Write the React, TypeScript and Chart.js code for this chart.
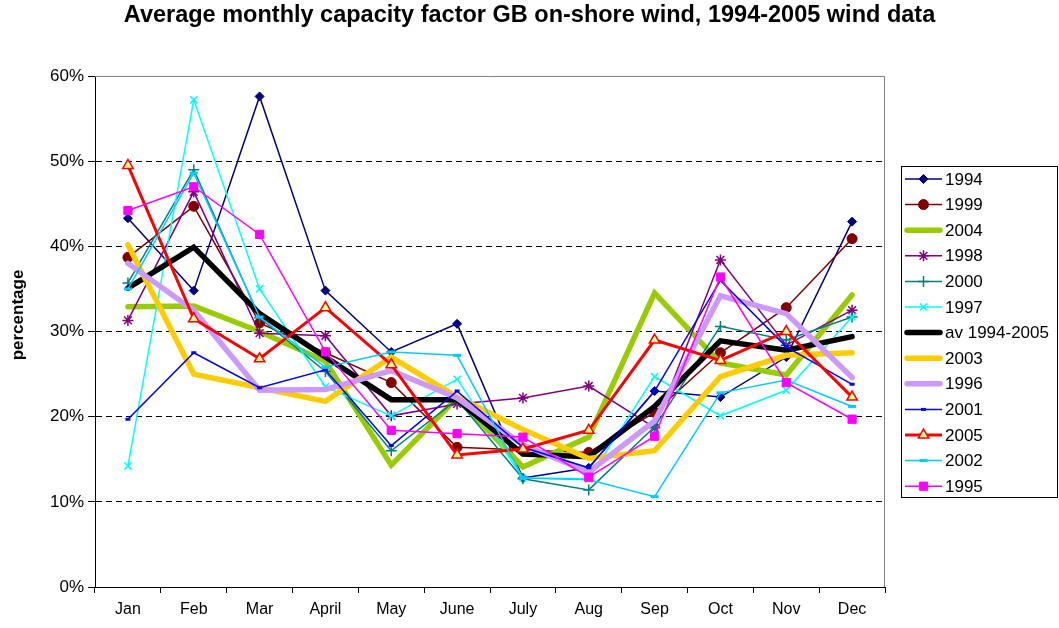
import React, { useEffect, useRef } from 'react';
import { Chart, registerables } from 'chart.js';
import { drawPoint } from 'chart.js/helpers';

Chart.register(...registerables);

const FONT = '"Liberation Sans", Arial, Helvetica, sans-serif';

const chartTitle = 'Average monthly capacity factor GB on-shore wind, 1994-2005 wind data';
const yAxisTitle = 'percentage';
const months = ['Jan', 'Feb', 'Mar', 'April', 'May', 'June', 'July', 'Aug', 'Sep', 'Oct', 'Nov', 'Dec'];
const yTicks = [0, 10, 20, 30, 40, 50, 60];

const y1994 = [43.3, 34.8, 57.6, 34.8, 27.6, 30.9, 12.8, 14.0, 23.0, 22.3, 27.0, 42.9];
const y1999 = [38.7, 44.7, 31.0, 27.5, 24.0, 16.4, 16.1, 15.8, 20.5, 27.5, 32.8, 40.9];
const y2004 = [32.9, 33.0, 30.0, 26.5, 14.3, 22.2, 14.1, 17.6, 34.5, 26.3, 24.9, 34.3];
const y1998 = [31.3, 46.4, 29.8, 29.5, 20.1, 21.5, 22.2, 23.6, 18.7, 38.4, 28.4, 32.5];
const y2000 = [35.7, 49.0, 31.6, 25.3, 16.0, 22.0, 12.7, 11.4, 18.8, 30.6, 29.0, 31.7];
const y1997 = [14.2, 57.2, 35.0, 23.5, 20.1, 24.4, 12.8, 12.7, 24.7, 20.1, 23.1, 31.7];
const yAverage = [35.1, 39.9, 32.1, 27.0, 22.0, 22.0, 15.6, 15.3, 21.2, 28.9, 27.8, 29.4];
const y2003 = [40.2, 25.0, 23.4, 21.8, 27.0, 22.3, 18.5, 15.1, 16.0, 24.7, 27.2, 27.5];
const y1996 = [38.0, 32.5, 23.1, 23.2, 25.4, 22.2, 16.7, 13.5, 19.5, 34.2, 32.1, 24.6];
const y2001 = [19.7, 27.5, 23.4, 25.5, 16.6, 23.0, 16.4, 14.0, 23.0, 36.0, 28.2, 23.8];
const y2005 = [49.5, 31.5, 26.8, 32.8, 26.1, 15.5, 16.2, 18.4, 29.0, 26.6, 30.0, 22.3];
const y2002 = [35.0, 48.6, 31.7, 25.8, 27.6, 27.2, 12.8, 12.6, 10.6, 22.8, 24.3, 21.2];
const y1995 = [44.2, 47.0, 41.4, 27.6, 18.4, 18.0, 17.6, 12.9, 17.7, 36.4, 24.0, 19.7];

const seriesLabels = ['1994', '1999', '2004', '1998', '2000', '1997', 'av 1994-2005', '2003', '1996', '2001', '2005', '2002', '1995'];
const seriesValues = [y1994, y1999, y2004, y1998, y2000, y1997, yAverage, y2003, y1996, y2001, y2005, y2002, y1995];

type SeriesStyle = {
  color: string;
  width: number;
  point: string | false;
  radius: number;
  fill?: string;
  pointBorder?: number;
};

const seriesStyles: SeriesStyle[] = [
  { color: '#000080', width: 1.5, point: 'rectRot', radius: 4.5 },
  { color: '#800000', width: 1.5, point: 'circle', radius: 5 },
  { color: '#99CC00', width: 5.5, point: false, radius: 0 },
  { color: '#800080', width: 1.5, point: 'star', radius: 5.5, pointBorder: 1.5 },
  { color: '#008080', width: 1.5, point: 'cross', radius: 5.5, pointBorder: 1.5 },
  { color: '#00FFFF', width: 1.5, point: 'crossRot', radius: 5, pointBorder: 1.5 },
  { color: '#000000', width: 5.5, point: false, radius: 0 },
  { color: '#FFCC00', width: 5.5, point: false, radius: 0 },
  { color: '#CC99FF', width: 5.5, point: false, radius: 0 },
  { color: '#0000FF', width: 1.5, point: 'line', radius: 2.5, pointBorder: 3 },
  { color: '#FF0000', width: 3, point: 'triangle', radius: 6, fill: '#FFFF99', pointBorder: 1.5 },
  { color: '#00CCFF', width: 1.5, point: 'line', radius: 4, pointBorder: 3 },
  { color: '#FF00FF', width: 1.5, point: 'rect', radius: 5.8 },
];

const titlePlugin = {
  id: 'centredTitle',
  beforeDraw(chart: any) {
    const ctx = chart.ctx as CanvasRenderingContext2D;
    ctx.save();
    ctx.fillStyle = '#000';
    ctx.font = `bold 23.5px ${FONT}`;
    ctx.textAlign = 'center';
    ctx.textBaseline = 'middle';
    ctx.fillText(chartTitle, chart.width / 2, 16);
    // y axis title
    ctx.font = `bold 17px ${FONT}`;
    ctx.translate(18, 315);
    ctx.rotate(-Math.PI / 2);
    ctx.fillText(yAxisTitle, 0, 0);
    ctx.restore();
  },
};

const framePlugin = {
  id: 'plotFrame',
  beforeDatasetsDraw(chart: any) {
    const { ctx, chartArea: a } = chart;
    ctx.save();
    ctx.strokeStyle = '#808080';
    ctx.lineWidth = 1;
    ctx.setLineDash([]);
    ctx.beginPath();
    ctx.moveTo(a.left, Math.round(a.top) + 0.5);
    ctx.lineTo(Math.round(a.right) - 0.5, Math.round(a.top) + 0.5);
    ctx.lineTo(Math.round(a.right) - 0.5, a.bottom);
    ctx.stroke();
    ctx.restore();
  },
};

const legendPlugin = {
  id: 'boxLegend',
  afterDraw(chart: any) {
    const ctx = chart.ctx as CanvasRenderingContext2D;
    const a = chart.chartArea;
    const x0 = a.right + 16;
    const y0 = 166;
    const w = 156;
    const h = 331;
    const step = 25.6;
    ctx.save();
    ctx.setLineDash([]);
    ctx.strokeStyle = '#000';
    ctx.lineWidth = 1;
    ctx.strokeRect(Math.round(x0) + 0.5, y0 + 0.5, w, h);
    chart.data.datasets.forEach((ds: any, i: number) => {
      const y = y0 + 13 + i * step;
      const sx0 = x0 + 4;
      const sx1 = x0 + 41;
      ctx.strokeStyle = ds.borderColor;
      ctx.lineWidth = ds.borderWidth;
      ctx.lineCap = ds.borderWidth > 3 ? 'round' : 'butt';
      ctx.beginPath();
      ctx.moveTo(sx0 + (ds.borderWidth > 3 ? 2 : 0), y);
      ctx.lineTo(sx1 - (ds.borderWidth > 3 ? 2 : 0), y);
      ctx.stroke();
      if (ds.pointRadius > 0) {
        ctx.fillStyle = ds.pointBackgroundColor;
        ctx.strokeStyle = ds.pointBorderColor;
        ctx.lineWidth = ds.pointBorderWidth;
        drawPoint(ctx, { pointStyle: ds.pointStyle, rotation: 0, radius: ds.pointRadius, borderWidth: ds.pointBorderWidth }, (sx0 + sx1) / 2, y);
      }
      ctx.fillStyle = '#000';
      ctx.font = `17px ${FONT}`;
      ctx.textAlign = 'left';
      ctx.textBaseline = 'middle';
      ctx.fillText(ds.label, sx1 + 3, y + 1);
    });
    ctx.restore();
  },
};

export default function App() {
  const ref = useRef<HTMLCanvasElement>(null);

  useEffect(() => {
    document.body.style.margin = '0';
    const datasets = seriesLabels.map((label, i) => {
      const s = seriesStyles[i];
      return {
        label,
        data: seriesValues[i],
        borderColor: s.color,
        backgroundColor: s.color,
        borderWidth: s.width,
        borderCapStyle: 'round' as const,
        borderJoinStyle: 'miter' as const,
        pointStyle: s.point || 'circle',
        pointRadius: s.point ? s.radius : 0,
        pointHoverRadius: s.point ? s.radius : 0,
        pointBackgroundColor: s.fill || s.color,
        pointBorderColor: s.color,
        pointBorderWidth: s.pointBorder ?? 1,
        fill: false,
        tension: 0,
        order: -i,
      };
    });

    const chart = new Chart(ref.current!, {
      type: 'line',
      data: { labels: months, datasets },
      options: {
        responsive: false,
        animation: false,
        devicePixelRatio: 1,
        layout: { padding: { left: 0, right: 174, top: 76, bottom: 0 } },
        plugins: {
          legend: { display: false },
          tooltip: { enabled: false },
          title: { display: false },
        },
        scales: {
          x: {
            type: 'category',
            offset: true,
            grid: {
              display: true,
              offset: true,
              drawOnChartArea: false,
              drawTicks: true,
              tickLength: 6,
              color: '#000',
              tickColor: '#000',
            },
            border: { display: true, color: '#000', width: 1 },
            ticks: {
              color: '#000',
              font: { family: FONT, size: 16 },
              padding: 7,
              maxRotation: 0,
              autoSkip: false,
            },
            afterFit: (s: any) => {
              s.height = 41;
            },
          },
          y: {
            type: 'linear',
            min: yTicks[0],
            max: yTicks[yTicks.length - 1],
            afterBuildTicks: (s: any) => {
              s.ticks = yTicks.map((v) => ({ value: v }));
            },
            ticks: {
              color: '#000',
              font: { family: FONT, size: 17 },
              padding: 4,
              callback: (v: any) => `${v}%`,
            },
            grid: {
              color: (c: any) => (c.tick && c.tick.value > 0 && c.tick.value < 60 ? '#000' : 'rgba(0,0,0,0)'),
              tickColor: '#000',
              tickLength: 7,
              tickBorderDash: [],
              lineWidth: 1,
            },
            border: { display: true, color: '#000', width: 1, dash: [6, 4] },
            title: { display: false },
            afterFit: (s: any) => {
              s.width = 95;
            },
          },
        },
      },
      plugins: [titlePlugin, framePlugin, legendPlugin],
    } as any);

    return () => chart.destroy();
  }, []);

  return (
    <div style={{ width: 1059, height: 628 }}>
      <canvas ref={ref} width={1059} height={628} style={{ display: 'block' }} />
    </div>
  );
}
